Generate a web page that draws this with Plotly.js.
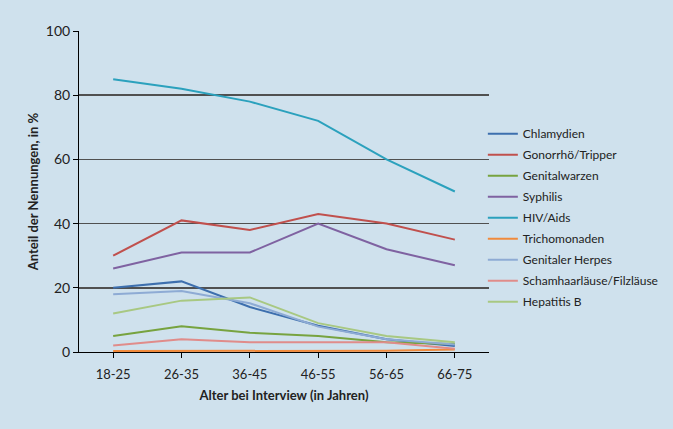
<!DOCTYPE html>
<html>
<head>
<meta charset="utf-8">
<script src="https://cdn.plot.ly/plotly-3.0.1.min.js"></script>
<style>html,body{margin:0;padding:0;background:#cfe1ed;}</style>
</head>
<body>
<div id="chart" style="width:673px;height:429px;"></div>
<script>
const categories = ["18-25", "26-35", "36-45", "46-55", "56-65", "66-75"];
const seriesNames = ["Chlamydien", "Gonorrhö/Tripper", "Genitalwarzen", "Syphilis", "HIV/Aids", "Trichomonaden", "Genitaler Herpes", "Schamhaarläuse/Filzläuse", "Hepatitis B"];
const chlamydien = [20, 22, 14, 8.2, 4, 1.9];
const gonorrhoe = [30, 41, 38, 43, 40, 35];
const genitalwarzen = [5, 8, 6, 5, 3, 2.5];
const syphilis = [26, 31, 31, 40, 32, 27];
const hivAids = [85, 82, 78, 72, 60, 50];
const trichomonaden = [0.3, 0.3, 0.4, 0.4, 0.4, 0.8];
const genitalerHerpes = [18, 19, 15.2, 7.9, 4, 2.3];
const schamhaarlaeuse = [2, 4, 3, 3, 3, 1];
const hepatitisB = [12, 16, 17, 9, 5, 3];
const colors = ["#3d6fae", "#c0504d", "#77a33f", "#7f62a1", "#2ba1bd", "#f08a3c", "#8eabd4", "#e08c8a", "#a8c882"];
const allValues = [chlamydien, gonorrhoe, genitalwarzen, syphilis, hivAids, trichomonaden, genitalerHerpes, schamhaarlaeuse, hepatitisB];

const traces = allValues.map((vals, i) => ({
  type: "scatter",
  mode: "lines",
  x: categories,
  y: vals,
  name: seriesNames[i],
  legendgroup: "g" + i,
  line: {color: colors[i], width: 2}
}));

const layout = {
  width: 673, height: 429,
  paper_bgcolor: "#cfe1ed",
  plot_bgcolor: "#cfe1ed",
  margin: {l: 79, r: 184, t: 31, b: 77, autoexpand: false},
  font: {family: "Lato, 'Open Sans', sans-serif", color: "#222", size: 13},
  showlegend: true,
  legend: {
    x: 0.985, y: 0.725, xanchor: "left", yanchor: "top",
    bgcolor: "rgba(0,0,0,0)",
    font: {size: 12, color: "#222"},
    tracegroupgap: 2
  },
  xaxis: {
    type: "category",
    range: [-0.5, 5.5],
    showgrid: false,
    showline: true, linecolor: "#000", linewidth: 1,
    ticks: "outside", ticklen: 5, tickcolor: "#000",
    ticklabelstandoff: 5,
    tickfont: {size: 13, color: "#222"},
    title: {text: "<b>Alter bei Interview (in Jahren)</b>", font: {size: 13, color: "#222"}, standoff: 10},
    zeroline: false
  },
  yaxis: {
    range: [0, 100],
    tickvals: [0, 20, 40, 60, 80, 100],
    showgrid: true, gridcolor: "#505050", gridwidth: 1.5,
    showline: true, linecolor: "#000", linewidth: 1,
    ticks: "outside", ticklen: 5, tickcolor: "#000",
    tickfont: {size: 14, color: "#222"},
    title: {text: "<b>Anteil der Nennungen, in %</b>", font: {size: 13, color: "#222"}, standoff: 4},
    zeroline: false
  }
};

Plotly.newPlot("chart", traces, layout, {displayModeBar: false, staticPlot: true});
</script>
</body>
</html>
